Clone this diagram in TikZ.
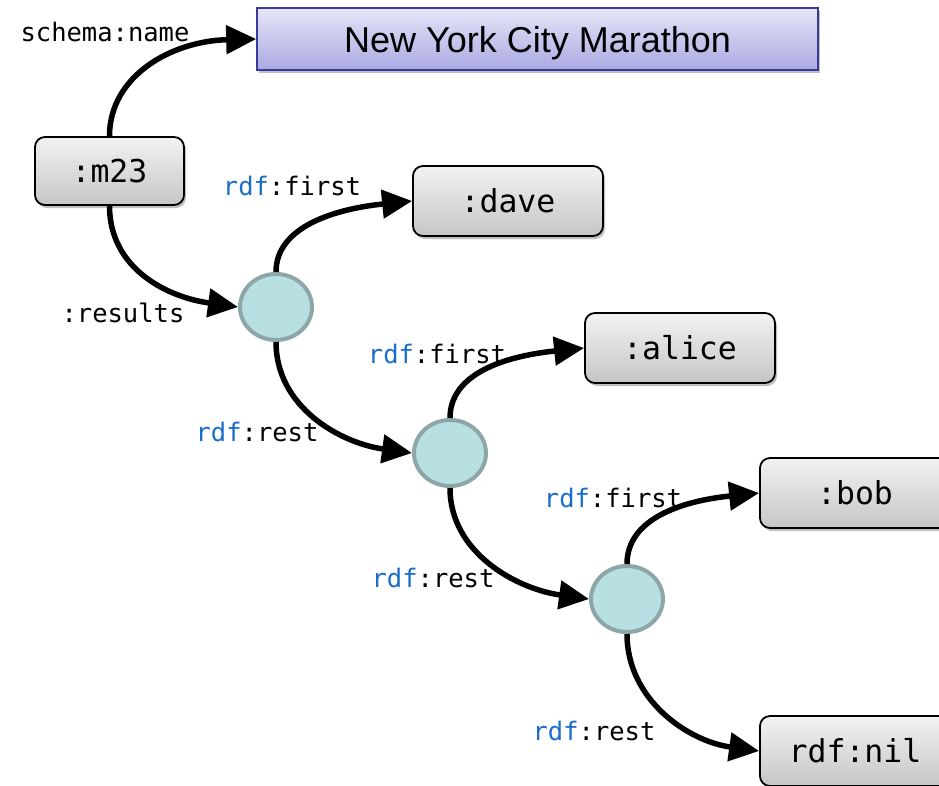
\documentclass[tikz,border=0pt]{standalone}
\usepackage{fontspec}
\setmainfont{Liberation Sans}
\setmonofont{DejaVu Sans Mono}
\usetikzlibrary{arrows.meta,shadows,shapes.geometric}
\definecolor{rdfblue}{HTML}{1A6DC8}
\definecolor{blankfill}{HTML}{B8DFE1}
\definecolor{blankedge}{HTML}{8DA6A7}
\definecolor{titleedge}{HTML}{3A3A9C}
\definecolor{titletop}{HTML}{E6E6F8}
\definecolor{titlebot}{HTML}{A9A9E2}
\newcommand{\rdfns}{{\color{rdfblue}rdf}}
\begin{document}
\begin{tikzpicture}[x=1pt,y=1pt,
  softshadow/.style={drop shadow={shadow xshift=2pt,shadow yshift=-3pt,opacity=0.25,fill=black}},
  titlebox/.style={draw=titleedge,line width=1.6pt,top color=titletop,bottom color=titlebot,
    minimum width=561pt,minimum height=62pt,inner sep=0pt,softshadow,
    text height=26pt,text depth=0pt,
    font=\fontsize{36}{36}\selectfont},
  resbox/.style={draw=black,line width=1.8pt,rounded corners=10pt,top color=gray!10,bottom color=gray!45,
    minimum width=190pt,minimum height=70pt,inner sep=0pt,softshadow,
    font=\ttfamily\fontsize{31.5}{31.5}\selectfont},
  blank/.style={ellipse,draw=blankedge,fill=blankfill,line width=4pt,
    minimum width=72pt,minimum height=66pt,inner sep=0pt},
  link/.style={line width=5.5pt,-{Triangle[length=30pt,width=28pt]}},
  lbl/.style={inner sep=0pt,font=\ttfamily\fontsize{25.5}{25.5}\selectfont}
]
\useasboundingbox (0,0) rectangle (939,-785);
\clip (0,0) rectangle (939,-785);

% resources
\node[titlebox] (name) at (537.5,-39) {New York City Marathon};
\node[resbox,minimum width=149pt,minimum height=68pt] (m23) at (109.5,-171) {:m23};
\node[resbox] (dave)  at (508,-201) {:dave};
\node[resbox] (alice) at (680,-348) {:alice};
\node[resbox] (bob)   at (855,-493) {:bob};
\node[resbox] (nil)   at (855,-751) {rdf:nil};

% list cells
\node[blank] (c1) at (276,-307) {};
\node[blank] (c2) at (450,-453) {};
\node[blank] (c3) at (627,-599) {};

% properties
\draw[link] (m23.north) .. controls +(0,60) and +(-85,-2) .. (name.west);
\draw[link] (m23.south) .. controls +(0,-62) and +(-72,10) .. (c1.west);

\draw[link] (c1.north) .. controls +(0,45) and +(-78,-8) .. (dave.west);
\draw[link] (c1.south) .. controls +(0,-65) and +(-72,10) .. (c2.west);

\draw[link] (c2.north) .. controls +(0,45) and +(-78,-8) .. (alice.west);
\draw[link] (c2.south) .. controls +(0,-65) and +(-72,10) .. (c3.west);

\draw[link] (c3.north) .. controls +(0,45) and +(-78,-8) .. (bob.west);
\draw[link] (c3.south) .. controls +(0,-65) and +(-72,10) .. (nil.west);

% property labels
\node[lbl] (lname) at (105,-32) {schema:name};
\node[lbl] (lres)  at (123,-313) {:results};
\node[lbl] (lf1) at (292,-186) {\rdfns:first};
\node[lbl] (lr1) at (257,-432) {\rdfns:rest};
\node[lbl] (lf2) at (437,-354) {\rdfns:first};
\node[lbl] (lr2) at (433,-578) {\rdfns:rest};
\node[lbl] (lf3) at (613,-498) {\rdfns:first};
\node[lbl] (lr3) at (594,-731) {\rdfns:rest};
\end{tikzpicture}
\end{document}
